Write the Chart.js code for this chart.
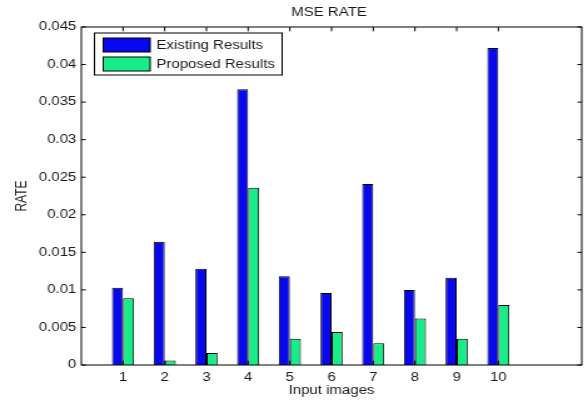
<!DOCTYPE html>
<html><head><meta charset="utf-8">
<script src="https://cdn.jsdelivr.net/npm/chart.js@4"></script>
<style>html,body{margin:0;padding:0;background:#fff;overflow:hidden}
#c{display:block}</style>
</head><body>
<canvas id="c" width="470" height="400" style="width:588px;height:400px"></canvas>
<script>
const chartTitle = 'MSE RATE';
const xTitle = 'Input images';
const yTitle = 'RATE';
const categories = ['1','2','3','4','5','6','7','8','9','10'];
const seriesNames = ['Existing Results', 'Proposed Results'];
const existingResults = [0.0103, 0.0164, 0.0128, 0.0367, 0.0118, 0.0096, 0.0241, 0.0100, 0.0116, 0.0422];
const proposedResults = [0.0089, 0.0006, 0.0016, 0.0236, 0.0035, 0.0044, 0.0029, 0.0062, 0.0035, 0.0080];
const yMin = 0, yMax = 0.045, yStep = 0.005;
const xMin = 0, xMax = 12;

const FONT = "'Liberation Sans', Arial, sans-serif";
const TXT = '#1a1a1a';

const boxPlugin = {
  id: 'box',
  afterDraw(chart) {
    const {ctx, chartArea: a, scales: {x, y}} = chart;
    ctx.save();
    ctx.strokeStyle = '#000';
    ctx.lineWidth = 1;
    ctx.strokeRect(a.left, a.top, a.right - a.left, a.bottom - a.top);
    ctx.beginPath();
    y.ticks.forEach(t => {
      const py = y.getPixelForValue(t.value);
      ctx.moveTo(a.left, py); ctx.lineTo(a.left + 3.5, py);
      ctx.moveTo(a.right, py); ctx.lineTo(a.right - 3.5, py);
    });
    categories.forEach((c, i) => {
      const px = x.getPixelForValue(i + 1);
      ctx.moveTo(px, a.bottom); ctx.lineTo(px, a.bottom - 4.3);
      ctx.moveTo(px, a.top); ctx.lineTo(px, a.top + 4.3);
    });
    ctx.stroke();
    // title
    ctx.fillStyle = TXT;
    ctx.font = '12px ' + FONT;
    ctx.textAlign = 'center';
    ctx.textBaseline = 'middle';
    ctx.fillText(chartTitle, (a.left + a.right) / 2 - 2, 13);
    // legend
    const lx = a.left + 10.5, ly = a.top + 6, lw = 150, lh = 42;
    ctx.fillStyle = '#fff';
    ctx.fillRect(lx, ly, lw, lh);
    ctx.strokeRect(lx, ly, lw, lh);
    ctx.font = '12px ' + FONT;
    chart.data.datasets.forEach((ds, i) => {
      const sy = ly + 5 + i * 19;
      ctx.fillStyle = ds.backgroundColor;
      ctx.fillRect(lx + 7, sy, 37.5, 14);
      ctx.strokeRect(lx + 7, sy, 37.5, 14);
      ctx.fillStyle = TXT;
      ctx.textAlign = 'left';
      ctx.fillText(ds.label, lx + 49.5, sy + 7.5);
    });
    ctx.restore();
  }
};

new Chart(document.getElementById('c'), {
  type: 'bar',
  data: {
    datasets: [
      {label: seriesNames[0], data: categories.map((c, i) => ({x: i + 1, y: existingResults[i]})),
       backgroundColor: '#0808ee', borderColor: '#000', borderWidth: 1},
      {label: seriesNames[1], data: categories.map((c, i) => ({x: i + 1, y: proposedResults[i]})),
       backgroundColor: '#18ec88', borderColor: '#000', borderWidth: 1}
    ]
  },
  options: {
    responsive: false,
    animation: false,
    categoryPercentage: 0.53,
    barPercentage: 1,
    layout: {padding: {top: 27, right: 1.5, left: 0, bottom: 0}},
    plugins: {legend: {display: false}, tooltip: {enabled: false}, title: {display: false}},
    scales: {
      x: {
        type: 'linear', min: xMin, max: xMax, offset: false,
        afterFit(s) { s.height = 35; },
        grid: {display: false, drawTicks: false, offset: false}, border: {display: false},
        ticks: {stepSize: 1, autoSkip: false, maxRotation: 0, padding: 5, color: TXT,
          font: {family: FONT, size: 12},
          callback: v => (v >= 1 && v <= categories.length) ? categories[v - 1] : ''},
        title: {display: true, text: xTitle, color: TXT, font: {family: FONT, size: 12},
          padding: {top: 0, bottom: 2}}
      },
      y: {
        min: yMin, max: yMax,
        afterFit(s) { s.width = 65; },
        grid: {display: false, drawTicks: false}, border: {display: false},
        ticks: {stepSize: yStep, padding: 4, color: TXT, font: {family: FONT, size: 12},
          callback: v => String(parseFloat(Number(v).toFixed(3)))},
        title: {display: true, text: yTitle, color: TXT, font: {family: FONT, size: 12},
          padding: {top: 10.4, bottom: 0}}
      }
    }
  },
  plugins: [boxPlugin]
});
</script>
</body></html>
